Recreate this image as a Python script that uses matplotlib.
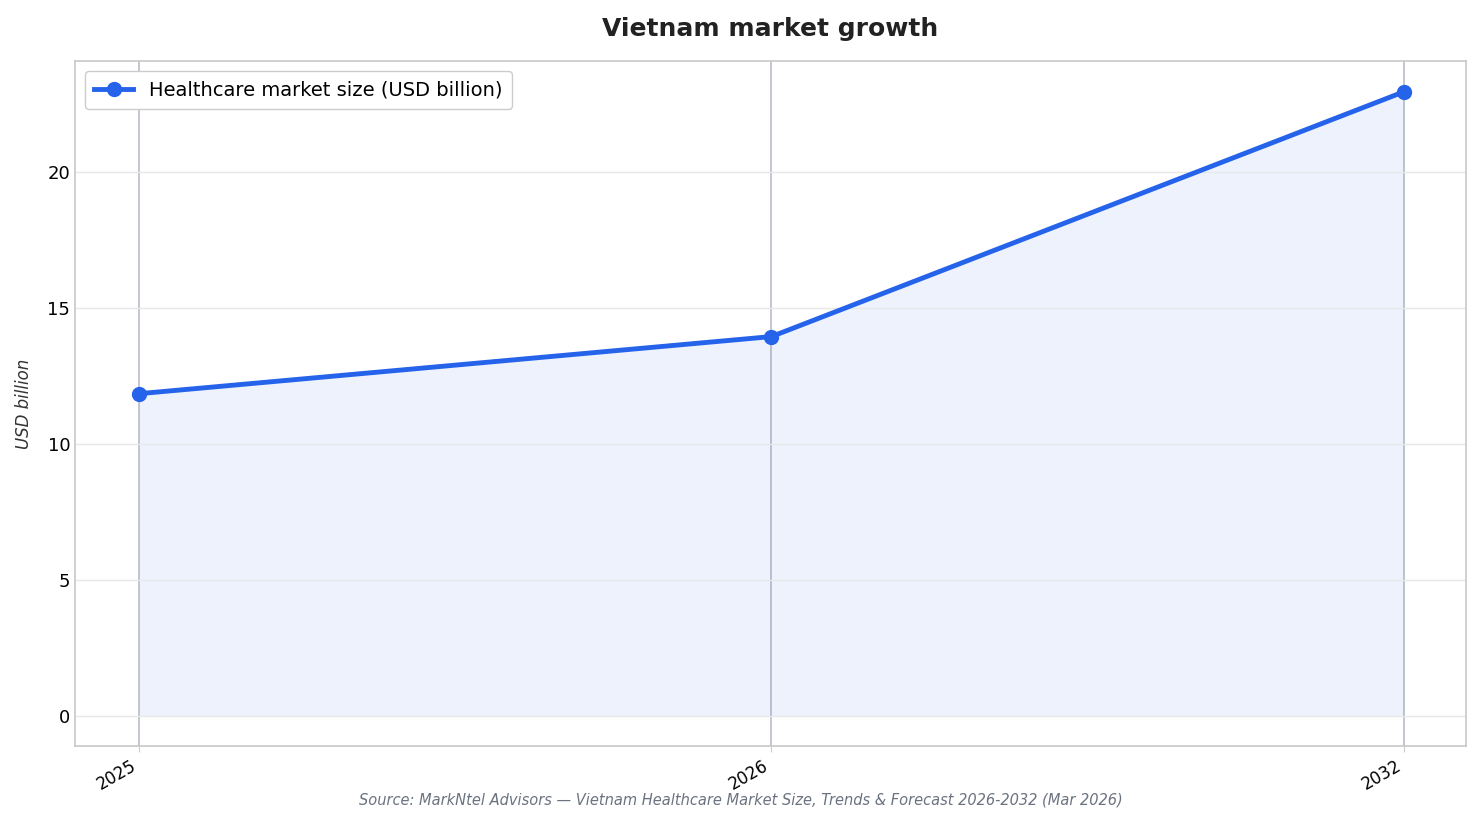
import matplotlib
matplotlib.use("Agg")
import matplotlib.pyplot as plt

years = ["2025", "2026", "2032"]
values = [11.85, 13.95, 22.95]
color = "#2563eb"

fig = plt.figure(figsize=(14.81, 8.24), dpi=100)
ax = fig.add_axes([75/1481, 1-746/824, (1466-75)/1481, (746-61)/824])
x = list(range(len(years)))
ax.fill_between(x, values, 0, color=color, alpha=0.08, linewidth=0)
ax.plot(x, values, color=color, lw=3.5, marker="o", ms=10, label="Healthcare market size (USD billion)")
ax.set_xlim(-0.101, 2.098)
ax.set_ylim(-1.1, 24.08)
ax.set_xticks(x)
ax.set_xticklabels(years, rotation=30, ha="right", fontsize=12)
ax.set_yticks([0, 5, 10, 15, 20])
ax.tick_params(axis="y", labelsize=13, length=0)
ax.tick_params(axis="x", length=4, color="#cccccc")
ax.yaxis.grid(True, color="#e8e8e8", lw=1)
for xi in x:
    ax.axvline(xi, color="#bfc3cc", lw=1.3, zorder=0)
for s in ax.spines.values():
    s.set_color("#c8c8c8")
    s.set_linewidth(1.2)
ax.set_ylabel("USD billion", fontsize=12, style="italic", color="#333333", labelpad=10)
ax.set_title("Vietnam market growth", fontsize=18, fontweight="bold", color="#222222", pad=18)
ax.legend(loc="upper left", fontsize=14, framealpha=1, edgecolor="#cccccc", borderpad=0.5)
fig.text(0.5, 1-800/824, "Source: MarkNtel Advisors — Vietnam Healthcare Market Size, Trends & Forecast 2026-2032 (Mar 2026)",
         ha="center", va="center", fontsize=10.5, style="italic", color="#6b7280")
fig.savefig("out.png", dpi=100)
